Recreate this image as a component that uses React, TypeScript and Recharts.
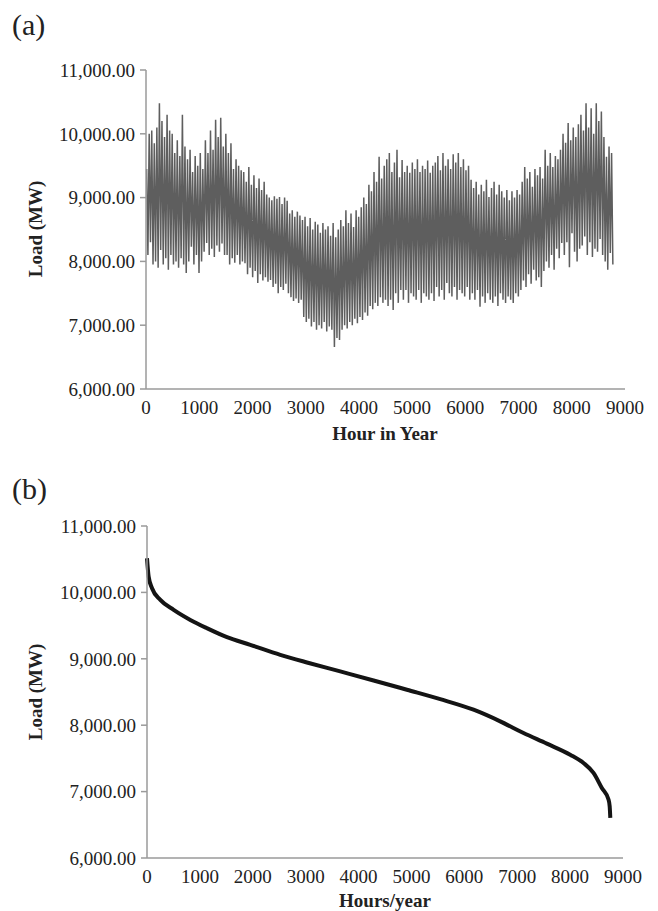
import React from "react";
import { LineChart, Line, XAxis, YAxis } from "recharts";

// Panel (a): hourly load, sampled as alternating daily peaks / troughs (every 48 h)
const peakLoads = [
  9450, 10000, 10050, 9850, 10100,
  10480, 10200, 9950, 10300, 10050, 10000,
  9700, 9900, 9650, 10300, 9800, 9600,
  9750, 9400, 9650, 9500, 9700, 9450,
  9900, 9700, 10050, 9750, 10220, 9950, 10250, 9800,
  10000, 9700, 9850, 9450, 9600, 9500, 9430,
  9400, 9250, 9480, 9200, 9350, 9150, 9300, 9120, 9250, 9050,
  9000, 8960, 9020, 8980, 9010, 8900, 9000, 8950,
  8750, 8800, 8700, 8780, 8720,
  8650, 8700, 8550, 8680, 8500, 8620, 8580, 8450, 8600, 8500, 8550,
  8400, 8600, 8380, 8500,
  8650, 8550, 8800, 8600, 8750, 8540, 8800, 8700, 8850,
  9000, 8900, 9200, 9100, 9400, 9250, 9640, 9300, 9500, 9600,
  9700, 9400, 9550, 9750, 9320,
  9590, 9400, 9500, 9390, 9550, 9450, 9600, 9400, 9500, 9450, 9580, 9390, 9500,
  9550, 9650, 9430, 9700, 9500, 9600, 9450, 9680, 9550, 9700, 9480, 9600, 9430, 9500,
  9280, 9150, 9250, 9050, 9200, 9100, 9280, 9010, 9150, 9250, 9050, 9200, 9100, 9000, 9120,
  8960, 9100, 9000, 9120, 9050,
  9250, 9480, 9300, 9400, 9170, 9450, 9350, 9480, 9300,
  9750, 9500, 9700, 9480, 9650, 9600, 9750,
  10000, 9860, 10170, 9900, 10100, 9950, 10150,
  10300, 10050, 10480, 10100, 10400, 10000, 10480, 10200, 10350,
  9950, 9640, 9800, 9700,
];

const troughLoads = [
  8100, 8300, 7950, 8000, 7900,
  8180, 7950, 8050, 7870, 8100, 7950,
  8000, 7900, 8050, 7950, 7820, 8000,
  8230, 7950, 8100, 7820, 8000, 8150,
  8290, 8100, 8200, 8070, 8250, 8150, 8280, 8100,
  8100, 7950, 8050, 7980, 8100, 7950, 8000,
  7970, 7800, 7900, 7750, 7850, 7660, 7800, 7700, 7750, 7680,
  7710, 7600, 7650, 7500, 7600, 7550, 7650, 7500,
  7440, 7380, 7420, 7350, 7400,
  7130, 7050, 7100, 6980, 7050, 6930, 7000, 6950, 7050, 6900, 6980,
  6930, 6660, 6800, 6770,
  6930, 7000, 6950, 7050, 7000, 7100, 7030, 7130, 7080,
  7200, 7150, 7300, 7250, 7350, 7300, 7440, 7350, 7400, 7300,
  7400, 7240, 7500, 7350, 7550,
  7400, 7550, 7350, 7500, 7450, 7400, 7550, 7350, 7500, 7450, 7400, 7500, 7380,
  7600, 7450, 7550, 7400, 7660, 7500, 7450, 7600, 7400, 7550, 7500, 7450, 7600, 7400,
  7500, 7400, 7550, 7290, 7450, 7350, 7500, 7400, 7350, 7450, 7300, 7500, 7400, 7350, 7450,
  7400, 7350, 7500, 7450, 7550,
  7700, 7600, 7800, 7650, 7870, 7700, 7750, 7600, 7850,
  8000, 7900, 8100, 7870, 8200, 8050, 8290,
  8100, 8300, 7910, 8440, 8150, 8000, 8200,
  8250, 8390, 8100, 8300, 8070, 8200, 8150, 8350, 8100,
  8000, 7870, 8130, 7950,
];

const FIRST_PEAK_HOUR = 12;
const SAMPLE_SPACING = 48;

// Panel (b): load duration curve
const durationHours = [
  0, 31, 95, 252, 504, 819, 1134, 1512, 1953, 2520, 3024, 3654, 4284, 4914, 5544,
  6174, 6678, 7119, 7560, 8001, 8253, 8442, 8600, 8726, 8748, 8760,
];
const durationLoads = [
  10514, 10238, 10063, 9887, 9737, 9586, 9461, 9326, 9211, 9060, 8945, 8810, 8674,
  8534, 8393, 8233, 8058, 7882, 7722, 7556, 7431, 7281, 7055, 6880, 6780, 6604,
];

const xTicks = [0, 1000, 2000, 3000, 4000, 5000, 6000, 7000, 8000, 9000];
const yTicks = [6000, 7000, 8000, 9000, 10000, 11000];

const hourlyData: { hour: number; load: number }[] = [];
peakLoads.forEach((p, i) => {
  hourlyData.push({ hour: FIRST_PEAK_HOUR + SAMPLE_SPACING * i, load: p });
  hourlyData.push({ hour: FIRST_PEAK_HOUR + SAMPLE_SPACING * i + SAMPLE_SPACING / 2, load: troughLoads[i] });
});
const durationData = durationHours.map((h, i) => ({ hour: h, load: durationLoads[i] }));

const FONT = "'Liberation Serif', 'Times New Roman', serif";
const AXIS = "#9a9a9a";
const fmt = (v: number) =>
  v.toLocaleString("en-US", { minimumFractionDigits: 2, maximumFractionDigits: 2 });

const tickStyle = { fontFamily: FONT, fontSize: 19, fill: "#222" };

const txt = (s: React.CSSProperties): React.CSSProperties => ({
  position: "absolute",
  fontFamily: FONT,
  color: "#222",
  whiteSpace: "nowrap",
  lineHeight: 1,
  ...s,
});

export default function App() {
  return (
    <div style={{ position: "absolute", left: 0, top: 0, width: 658, height: 911, background: "#fff" }}>
      {/* Panel (a) */}
      <div style={{ position: "absolute", left: 0, top: 0 }}>
        <LineChart width={658} height={440} data={hourlyData} margin={{ top: 70, right: 33, bottom: 21, left: 66 }}>
          <XAxis
            dataKey="hour"
            type="number"
            domain={[0, 9000]}
            ticks={xTicks}
            interval={0}
            tickLine={false}
            axisLine={{ stroke: AXIS, strokeWidth: 1.5 }}
            tick={tickStyle}
            tickMargin={6}
            height={30}
          />
          <YAxis
            type="number"
            domain={[6000, 11000]}
            ticks={yTicks}
            interval={0}
            tickFormatter={fmt}
            tickSize={6}
            tickMargin={5}
            tickLine={{ stroke: AXIS, strokeWidth: 1.5 }}
            axisLine={{ stroke: AXIS, strokeWidth: 1.5 }}
            tick={tickStyle}
            width={80}
          />
          <Line
            type="linear"
            dataKey="load"
            stroke="#5e5e5e"
            strokeWidth={1.5}
            dot={false}
            isAnimationActive={false}
          />
        </LineChart>
      </div>

      {/* Panel (b) */}
      <div style={{ position: "absolute", left: 0, top: 440 }}>
        <LineChart width={658} height={471} data={durationData} margin={{ top: 86, right: 35, bottom: 23, left: 67 }}>
          <XAxis
            dataKey="hour"
            type="number"
            domain={[0, 9000]}
            ticks={xTicks}
            interval={0}
            tickLine={false}
            axisLine={{ stroke: AXIS, strokeWidth: 1.5 }}
            tick={tickStyle}
            tickMargin={6}
            height={30}
          />
          <YAxis
            type="number"
            domain={[6000, 11000]}
            ticks={yTicks}
            interval={0}
            tickFormatter={fmt}
            tickSize={6}
            tickMargin={5}
            tickLine={{ stroke: AXIS, strokeWidth: 1.5 }}
            axisLine={{ stroke: AXIS, strokeWidth: 1.5 }}
            tick={tickStyle}
            width={80}
          />
          <Line
            type="monotone"
            dataKey="load"
            stroke="#141414"
            strokeWidth={4}
            dot={false}
            isAnimationActive={false}
          />
        </LineChart>
      </div>

      <div style={txt({ left: 12, top: 10, fontSize: 30 })}>(a)</div>
      <div style={txt({ left: 12, top: 474, fontSize: 30 })}>(b)</div>

      <div
        style={txt({
          left: 35,
          top: 229,
          fontSize: 19,
          fontWeight: "bold",
          transform: "translate(-50%, -50%) rotate(-90deg)",
        })}
      >
        Load (MW)
      </div>
      <div
        style={txt({
          left: 35,
          top: 692,
          fontSize: 19,
          fontWeight: "bold",
          transform: "translate(-50%, -50%) rotate(-90deg)",
        })}
      >
        Load (MW)
      </div>
      <div style={txt({ left: 385, top: 433, fontSize: 19, fontWeight: "bold", transform: "translate(-50%, -50%)" })}>
        Hour in Year
      </div>
      <div style={txt({ left: 385, top: 900, fontSize: 19, fontWeight: "bold", transform: "translate(-50%, -50%)" })}>
        Hours/year
      </div>
    </div>
  );
}
